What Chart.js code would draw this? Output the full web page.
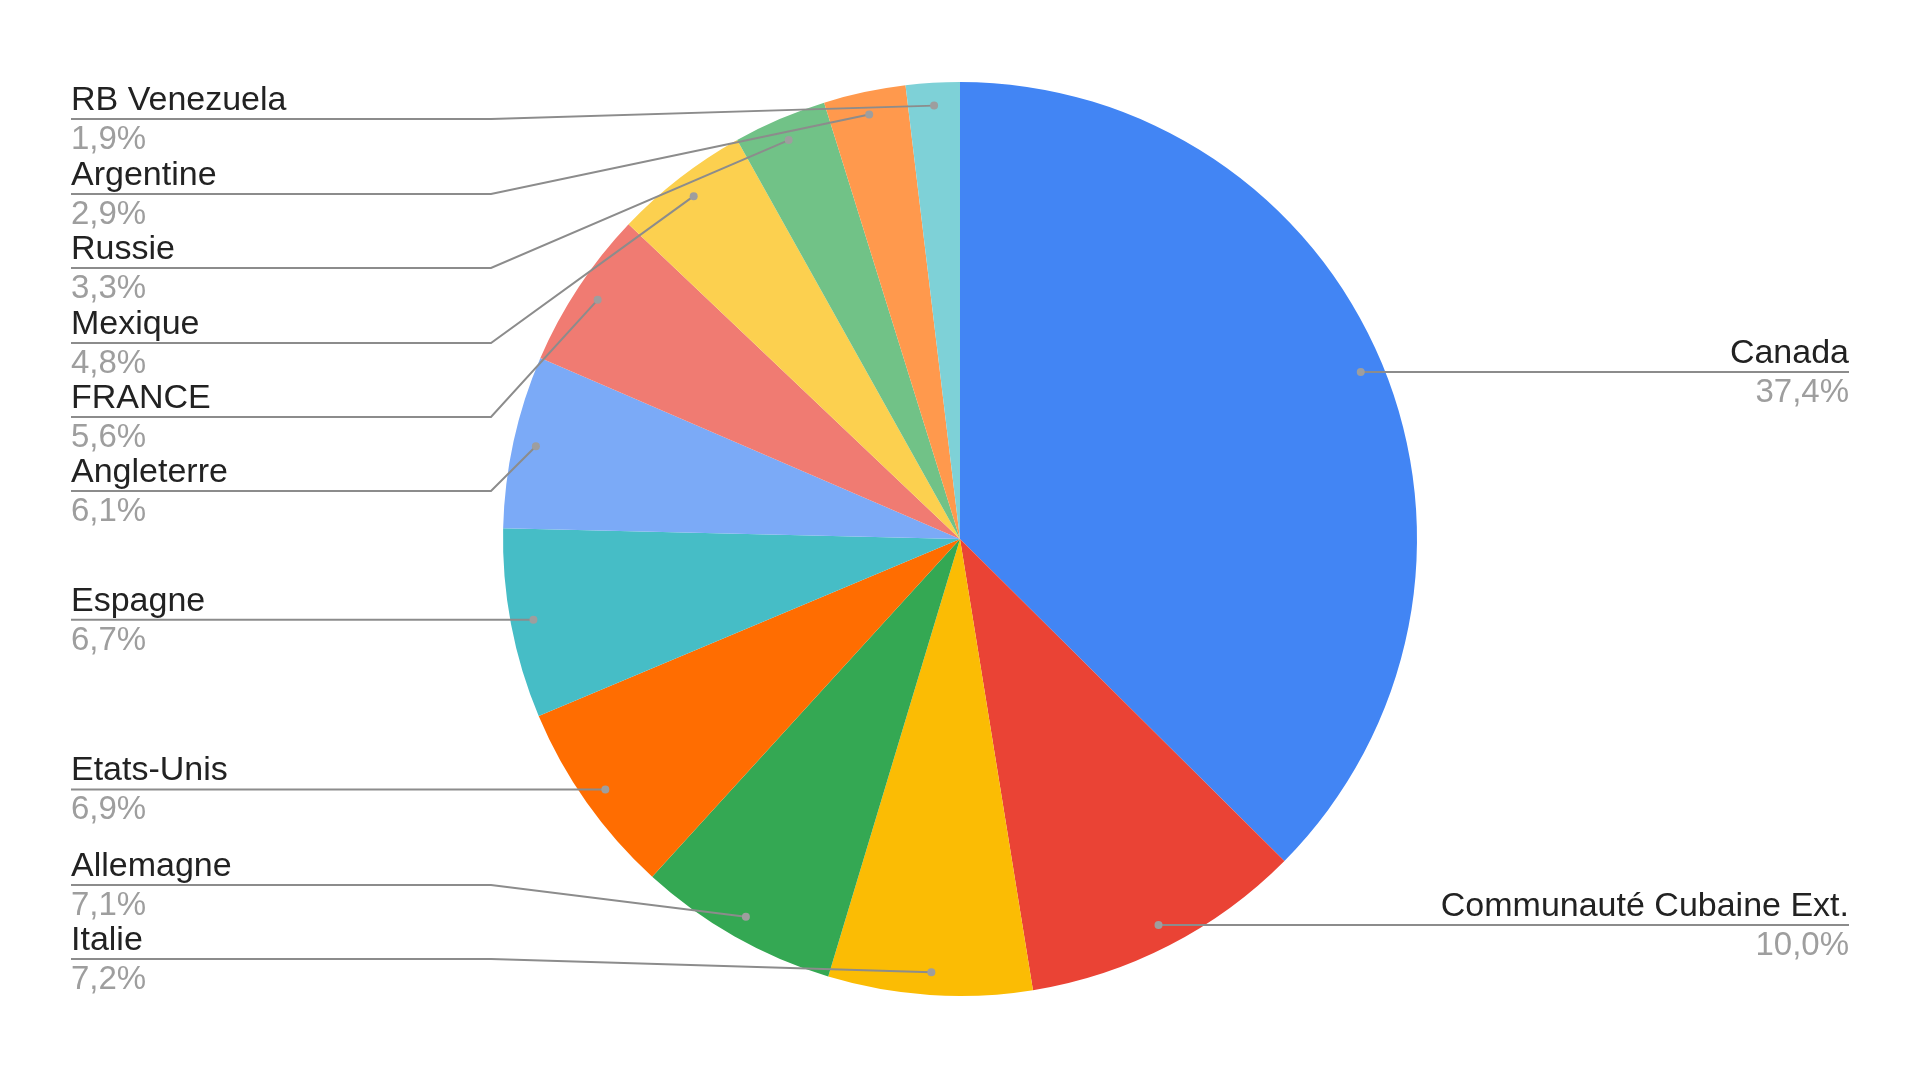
<!DOCTYPE html>
<html>
<head>
<meta charset="utf-8">
<script src="https://cdn.jsdelivr.net/npm/chart.js@4/dist/chart.umd.min.js"></script>
<style>
  html, body { margin: 0; padding: 0; background: #fff; }
  #wrap { width: 1920px; height: 1079px; }
</style>
</head>
<body>
<div id="wrap"><canvas id="pie_chart" width="1920" height="1079"></canvas></div>
<script>
// data (percent shares)
var countries = ['Canada', 'Communauté Cubaine Ext.', 'Italie', 'Allemagne', 'Etats-Unis', 'Espagne',
                 'Angleterre', 'FRANCE', 'Mexique', 'Russie', 'Argentine', 'RB Venezuela'];
var shares = [37.4, 10.0, 7.2, 7.1, 6.9, 6.7, 6.1, 5.6, 4.8, 3.3, 2.9, 1.9];
var colors = ['#4285F4', '#EA4335', '#FBBC04', '#34A853', '#FF6D01', '#46BDC6',
              '#7BAAF7', '#F07B72', '#FCD04F', '#71C287', '#FF994D', '#7ED1D7'];

// where each label's underline sits (null = level with the slice anchor)
var labelLineY = [null, null, 959, 885, null, null, 491, 417, 343, 268, 194, 119];

var leaderLabels = {
    id: 'leaderLabels',
    afterDatasetsDraw: function(chart) {
        var ctx = chart.ctx;
        var arcs = chart.getDatasetMeta(0).data;
        var leftX = 71, rightX = 1849, elbowX = 491;
        ctx.save();
        arcs.forEach(function(arc, i) {
            var p = arc.getProps(['x', 'y', 'startAngle', 'endAngle', 'outerRadius'], true);
            var mid = (p.startAngle + p.endAngle) / 2;
            var ax = p.x + Math.cos(mid) * p.outerRadius * 0.95;
            var ay = p.y + Math.sin(mid) * p.outerRadius * 0.95;
            var ly = labelLineY[i] == null ? ay : labelLineY[i];
            var right = ax > p.x;

            ctx.strokeStyle = '#8c8c8c';
            ctx.lineWidth = 2;
            ctx.beginPath();
            if (right) {
                ctx.moveTo(ax, ay);
                ctx.lineTo(rightX, ly);
            } else {
                ctx.moveTo(leftX, ly);
                if (Math.abs(ly - ay) > 1) ctx.lineTo(elbowX, ly);
                ctx.lineTo(ax, ay);
            }
            ctx.stroke();

            ctx.fillStyle = '#9e9e9e';
            ctx.beginPath();
            ctx.arc(ax, ay, 4, 0, Math.PI * 2);
            ctx.fill();

            var tx = right ? rightX : leftX;
            ctx.textAlign = right ? 'right' : 'left';
            ctx.textBaseline = 'alphabetic';
            ctx.font = '34px "Liberation Sans", Arial, sans-serif';
            ctx.fillStyle = '#222222';
            ctx.fillText(countries[i], tx, ly - 9);
            ctx.font = '33px "Liberation Sans", Arial, sans-serif';
            ctx.fillStyle = '#9e9e9e';
            ctx.fillText(shares[i].toFixed(1).replace('.', ',') + '%', tx, ly + 30);
        });
        ctx.restore();
    }
};

var ctx = document.getElementById('pie_chart').getContext('2d');
var myPieChart = new Chart(ctx, {
    type: 'pie',
    data: {
        labels: countries,
        datasets: [{
            data: shares,
            backgroundColor: colors,
            borderWidth: 0
        }]
    },
    options: {
        responsive: false,
        animation: false,
        layout: { padding: { top: 82, bottom: 83, left: 0, right: 0 } },
        plugins: {
            legend: { display: false },
            tooltip: { enabled: false }
        }
    },
    plugins: [leaderLabels]
});
</script>
</body>
</html>
